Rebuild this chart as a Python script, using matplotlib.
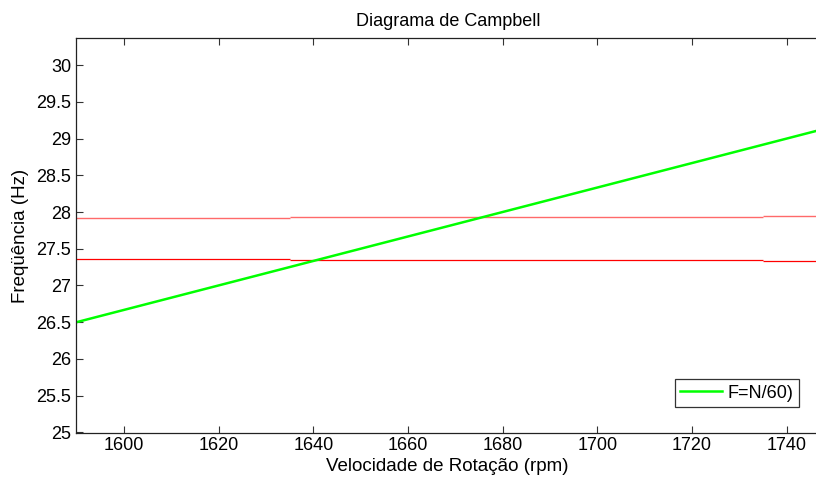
import matplotlib
matplotlib.use("Agg")
import matplotlib.pyplot as plt
import numpy as np
from matplotlib.ticker import FormatStrFormatter

plt.rcParams['font.family'] = ['Liberation Sans', 'DejaVu Sans']

# Data
speed = [1589.75, 1747.05]                     # rpm, ends of the range
freq_excitation = [s / 60.0 for s in speed]     # F = N/60
seg_start = [1589.75, 1635.0, 1735.0]
seg_end = [1635.0, 1735.0, 1747.05]
mode_upper = [27.924, 27.937, 27.951]
mode_lower = [27.357, 27.343, 27.333]

xticks = [1600, 1620, 1640, 1660, 1680, 1700, 1720, 1740]
yticks = [25, 25.5, 26, 26.5, 27, 27.5, 28, 28.5, 29, 29.5, 30]

fig = plt.figure(figsize=(8.16, 4.79), dpi=100)
ax = fig.add_axes([75.5/816, 46/479, (820-75.5)/816, 395/479])

ax.hlines(mode_upper, seg_start, seg_end, colors='#ff6a6a', linewidth=1.0)
ax.hlines(mode_lower, seg_start, seg_end, colors='#ff0000', linewidth=0.9)
ax.plot(speed, freq_excitation, color='#00ff00', linewidth=1.8, label='F=N/60)')

ax.set_xlim(1589.75, 1747.05)
ax.set_ylim(24.99, 30.37)
ax.set_xticks(xticks)
ax.set_yticks(yticks)
ax.yaxis.set_major_formatter(FormatStrFormatter('%g'))
ax.tick_params(direction='in', length=5, width=0.8, labelsize=13,
               top=True, right=False, colors='#333333', labelcolor='black', pad=3)
for s in ['left', 'top', 'bottom']:
    ax.spines[s].set_color('#222222')
    ax.spines[s].set_linewidth(0.9)
ax.spines['right'].set_visible(False)

ax.set_title('Diagrama de Campbell', fontsize=13, pad=9)
ax.set_xlabel('Velocidade de Rotação (rpm)', fontsize=13.5, labelpad=3)
ax.set_ylabel('Freqüência (Hz)', fontsize=13.5, labelpad=5)

leg = ax.legend(loc='lower right', bbox_to_anchor=(0.972, 0.066), borderaxespad=0,
                fontsize=13, fancybox=False, framealpha=1, handlelength=2.3,
                borderpad=0.3, handletextpad=0.35)
leg.get_frame().set_edgecolor('#333333')
leg.get_frame().set_linewidth(0.9)

fig.savefig('out.png', dpi=100)
